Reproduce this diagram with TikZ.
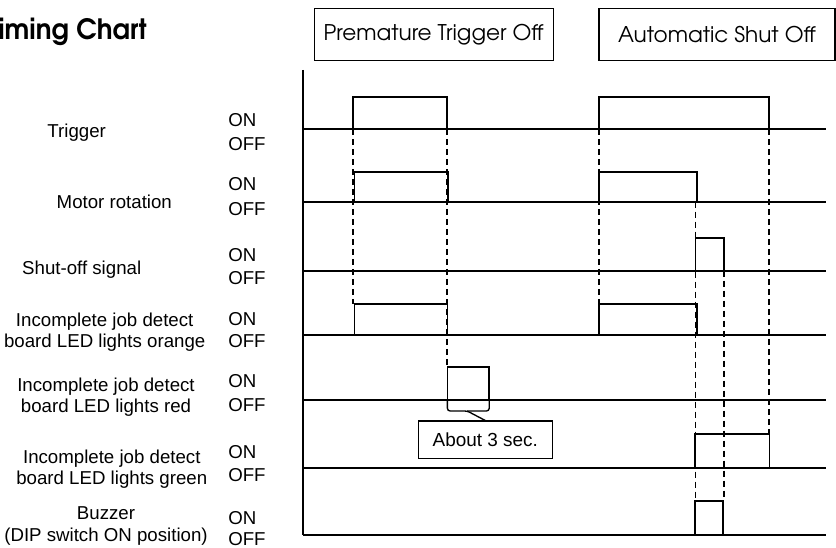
\documentclass[tikz,border=0pt]{standalone}
\usepackage{fontspec}
\newfontfamily\arialfont{Liberation Sans}
\newfontfamily\gothicfont{TeX Gyre Adventor}

\tikzset{
  sig/.style={line width=1.3pt},
  guide/.style={line width=1.3pt, dash pattern=on 4.5pt off 3pt},
  lbl/.style={font=\arialfont\fontsize{14}{16}\selectfont, align=center, inner sep=0pt},
  lvl/.style={font=\arialfont\fontsize{14}{16}\selectfont, anchor=west, inner sep=0pt},
  modebox/.style={draw, line width=0.8pt, font=\gothicfont\fontsize{16.2}{18}\selectfont, minimum height=39pt, inner sep=0pt},
  notebox/.style={draw, line width=0.8pt, font=\arialfont\fontsize{14.2}{16}\selectfont, minimum width=100.5pt, minimum height=28pt, inner sep=0pt},
  heading/.style={font=\gothicfont\bfseries\fontsize{21}{25}\selectfont, inner sep=0pt}
}

\begin{document}
\begin{tikzpicture}[x=0.75pt,y=-0.75pt]
\useasboundingbox (0,0) rectangle (836,548);
\node[heading, anchor=east] (title) at (147,31.7) {\scalebox{0.94}[1]{Timing Chart}};
\node[modebox, minimum width=179pt] (premature) at (433.7,34.3) {Premature Trigger Off};
\node[modebox, minimum width=177pt] (automatic) at (717,34.3) {Automatic Shut Off};
% axis and base lines
\draw[sig] (303,70) -- (303,535);
\foreach \y in {129,201.7,270.7,335,400,468.3,535}
\draw[sig] (303,\y) -- (826,\y);
% pulses: rise/fall/low/high
\foreach \a/\b/\lo/\hi in {352.7/446.7/129/97, 599/768.7/129/97,
  354.5/447.7/201.7/171.7, 599/696.7/201.7/171.7,
  695.6/724.3/270.7/237.7,
  354.5/447.4/335/304, 599/696.7/335/304,
  447.4/489.2/400/366.7,
  694.9/769.4/468.3/434.3,
  694.9/723.3/535/500.7}
\draw[sig] (\a,\lo) |- (\b,\hi) -- (\b,\lo);
% dashed guides
\foreach \x/\ya/\yb in {352.7/129/304, 447/129/366.7, 599/129/304,
  695.5/201.7/500.7, 724/270.7/500.7, 769/129/434.3}
\draw[guide] (\x,\ya) -- (\x,\yb);
% about 3 sec.
\node[notebox] (about) at (485.3,439.7) {About 3 sec.};
\coordinate (tip) at (467.2,411);
\draw[line width=1pt, rounded corners=2pt] (447.4,400) |- (tip) -- (about.north);
\draw[line width=1pt, rounded corners=2pt] (489.2,400) |- (tip);
% signal names
\node[lbl] (trigger) at (76.7,133) {Trigger};
\node[lbl] (motor) at (114.3,202) {Motor rotation};
\node[lbl] (shutoff) at (81.7,270) {Shut-off signal};
\node[lbl] (orange) at (104.7,332) {Incomplete job detect\\board LED lights orange};
\node[lbl] (red) at (106,397) {Incomplete job detect\\board LED lights red};
\node[lbl] (green) at (111.8,469) {Incomplete job detect\\board LED lights green};
\node[lbl] (buzzer) at (106,526) {Buzzer\\(DIP switch ON position)};
\foreach \n/\ya/\yb in {trigger/120/144, motor/184/209, shutoff/255/278,
  orange/319.3/341, red/381/405, green/451.7/475, buzzer/518.3/539.3}{
\node[lvl] (\n-on) at (228,\ya) {ON};
\node[lvl] (\n-off) at (228,\yb) {OFF};
}
\end{tikzpicture}
\end{document}
